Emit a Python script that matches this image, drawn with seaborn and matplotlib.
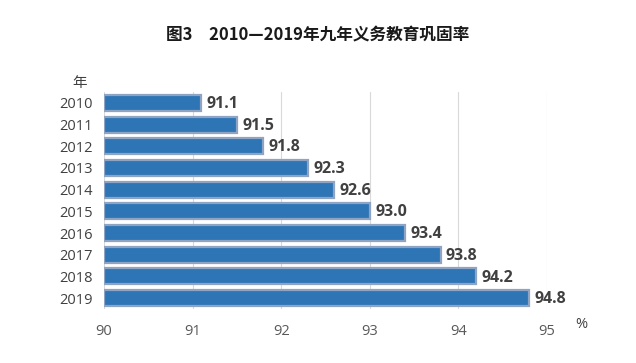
import matplotlib
matplotlib.use("Agg")
import matplotlib.pyplot as plt
import seaborn as sns
import pandas as pd

years = ["2010", "2011", "2012", "2013", "2014", "2015", "2016", "2017", "2018", "2019"]
rates = [91.1, 91.5, 91.8, 92.3, 92.6, 93.0, 93.4, 93.8, 94.2, 94.8]
xticks = [90, 91, 92, 93, 94, 95]
title = "图3　2010—2019年九年义务教育巩固率"

sns.set_theme(style="white")
plt.rcParams['font.family'] = ['Open Sans', 'Noto Sans CJK SC', 'DejaVu Sans']

df = pd.DataFrame({"year": years, "rate": rates})

fig = plt.figure(figsize=(6.36, 3.63), dpi=100)
ax = fig.add_axes([0.1635, 0.1488, 0.6965, 0.5978])

sns.barplot(data=df, x="rate", y="year", orient="h", color="#2E75B6",
            saturation=1, width=0.74, edgecolor="#8FA3C2", linewidth=1.6, ax=ax)
for p in ax.patches:
    w = p.get_width()
    p.set_x(90)
    p.set_width(w - 90)

ax.set_xlim(90, 95)
ax.set_ylim(9.5, -0.5)
ax.set_xticks(xticks)
ax.set_xticklabels([str(t) for t in xticks])
ax.xaxis.grid(True, color="#D9D9D9", linewidth=0.8)
ax.set_axisbelow(True)
for s in ax.spines.values():
    s.set_visible(False)
ax.set_xlabel("")
ax.set_ylabel("")
ax.tick_params(axis="x", colors="#595959", labelsize=10.5, length=0, pad=11)
ax.tick_params(axis="y", colors="#404040", labelsize=10.5, length=0, pad=8)

for i, v in enumerate(rates):
    ax.text(v + 0.06, i + 0.05, f"{v:.1f}", va="center", ha="left",
            fontsize=11.5, fontweight="bold", color="#404040")

fig.text(80 / 636, 1 - 83 / 363, "年", ha="center", va="center", fontsize=10.5,
         color="#404040", family=['Noto Sans CJK SC', 'DejaVu Sans'])
fig.text(581 / 636, 1 - 325 / 363, "%", ha="center", va="center", fontsize=10.5, color="#404040")
fig.text(0.5, 1 - 35 / 363, title, ha="center", va="center", fontsize=12,
         fontweight="bold", color="#1a1a1a", family=['Noto Sans CJK SC', 'DejaVu Sans'])

fig.savefig("out.png", dpi=100)
